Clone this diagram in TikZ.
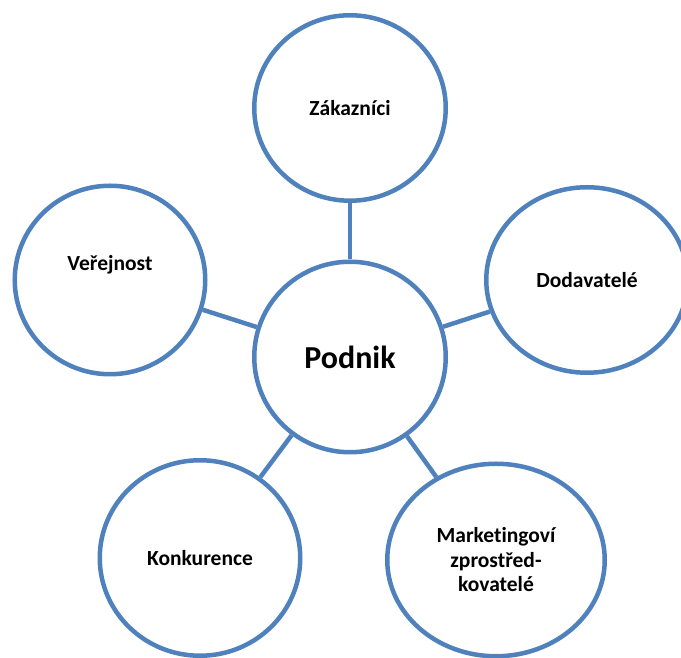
\documentclass[tikz,border=0pt]{standalone}
\usepackage{fontspec}
\setmainfont{Carlito}[Ligatures=CommonOff]
\usetikzlibrary{shapes.geometric}
\definecolor{ringblue}{HTML}{4F81BD}
\tikzset{
  ringtext/.style={font=\bfseries\fontsize{21.5}{24.5}\selectfont},
  ring/.style={ellipse, draw=ringblue, line width=4.5pt, fill=white,
    inner sep=0pt, align=center, ringtext},
  link/.style={draw=ringblue, line width=4.5pt},
}
\begin{document}
\begin{tikzpicture}[x=1pt,y=1pt]
\useasboundingbox (0,0) rectangle (681,658);
% centre
\node[ring, minimum width=191.5pt, minimum height=190.5pt,
      font=\bfseries\fontsize{32}{38}\selectfont] (podnik) at (350,301) {Podnik};
% surrounding groups
\node[ring, minimum width=191.5pt, minimum height=185.5pt] (zak) at (350,550) {Zákazníci};
\node[ring, minimum width=201.5pt, minimum height=185.5pt] (dod) at (587,378) {Dodavatelé};
\node[ring, minimum width=190.5pt, minimum height=188.5pt,
      label={[ringtext, yshift=15pt]center:Veřejnost}] (ver) at (110,378) {};
\node[ring, minimum width=200.5pt, minimum height=195.5pt] (kon) at (200,100) {Konkurence};
\node[ring, minimum width=217.5pt, minimum height=192.5pt] (mar) at (496,98) {Marketingoví\\zprostřed-\\kovatelé};
% connectors
\draw[link] (podnik) -- (zak);
\draw[link] (podnik) -- (dod);
\draw[link] (podnik) -- (ver);
\draw[link] (podnik) -- (kon);
\draw[link] (podnik) -- (mar);
\end{tikzpicture}
\end{document}
